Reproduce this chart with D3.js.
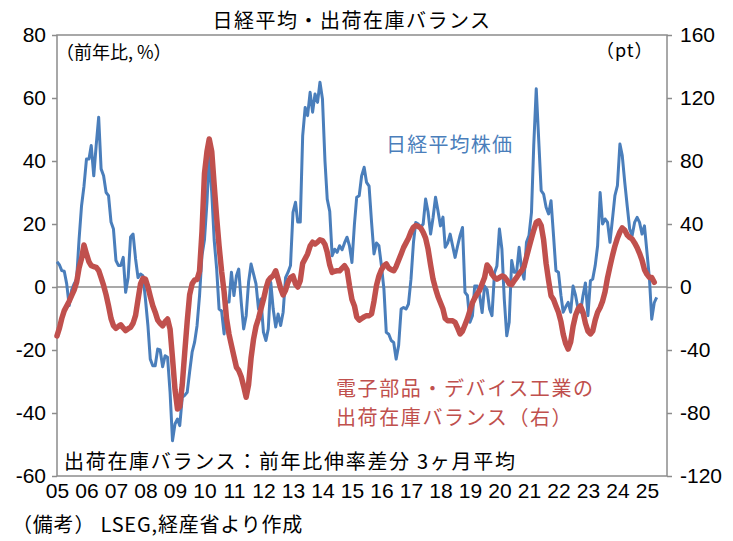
<!DOCTYPE html>
<html>
<head>
<meta charset="utf-8">
<script src="https://cdn.jsdelivr.net/npm/d3@7"></script>
<style>
  body { margin: 0; background: #fff; }
  text { font-family: "Noto Sans CJK JP", sans-serif; }
</style>
</head>
<body>
<script>
// monthly data, first month = 2005-01
let startMonth = "2005-01";

// 日経平均株価 前年比 (%), left axis
let nikkeiYoY = [
  8, 7, 5.2, 5, 1, -5.9, -1, 1, 2.5, 15, 25.8, 32,
  40.6, 40.6, 44.9, 35.3, 44.9, 53.9, 37.5, 35.3, 30, 29, 20.6, 18.4,
  8.4, 6.8, 6.8, 9.4, -1.7, 3, 15.9, 16.8, 8.9, 3, 4.1, 3.6,
  -3.8, -12.3, -22.9, -25, -25, -19.7, -20, -25.3, -21.8, -22.3, -33.4, -48.8,
  -43.5, -41.9, -44, -35, -34.4, -33.4, -27, -20.7, -17.5, -12.3, -2.7, 10,
  15, 26.9, 41.7, 30, 15, 5.7, -7, -7.6, -14.9, -4.8, -4.8, 4.7,
  -2.7, 3.6, 5.7, -4.8, -13.3, -9.1, 1.5, 7.3, 4.1, 1, -7, -3.8,
  -14.3, -17, -13.3, 1.5, -7, -12.7, -8.6, -12.2, -8, 3, 4.7, 6.8,
  23.7, 26.9, 20.6, 20.6, 48, 57, 54.4, 61.8, 55.5, 61.3, 58.6, 65,
  59.7, 40, 27.9, 24, 9.9, 12, 11, 13.1, 11.8, 14, 15.8, 13.1,
  7.8, 20, 28.5, 29, 35.3, 38, 33.2, 32, 20.5, 10.5, 14, 13.1,
  6.8, -0.7, -14.4, -15, -17, -17.6, -22.9, -18.6, -7, -6.5, -7, -5.4,
  2.5, 14.2, 20.5, 20, 18.9, 20, 27.9, 23.7, 16.8, 22, 28.5, 24.2,
  19.4, 22.2, 12.6, 14, 16.8, 13, 9.4, 13, 16.4, 18.9, -1.7, -2.7,
  -11.2, -9.1, 0.3, 0.3, -2.7, -8.1, 0.3, -0.8, -7, -9.1, 4.5, 6.7,
  18.4, 12, -3.8, -15.5, -11.2, 8.4, 4.7, 4.7, 12.6, 5.7, 2.5, 14.2,
  16.3, 23.7, 44.9, 62.9, 47, 30.6, 29.5, 25.3, 23.2, 27.4, 16.3, 5.2,
  4.7, -2.7, -8, -6.3, -4.9, -8, 0.3, -2.7, -7, -8, -2.7, 1.3,
  -9.1, 2, 2.5, 6.8, 13.1, 30, 20, 21.6, 20.5, 14.2, 21.6, 29,
  32.2, 45.4, 41.7, 33.2, 25.8, 18.4, 16.3, 20.5, 22.1, 20.5, 16.8, 19.4,
  11, 2.5, -10.2, -5, -3.3
];

// 電子部品・デバイス工業の出荷在庫バランス (pt), right axis
let balance = [
  -31, -26, -20, -15, -12, -9, -5.5, -2, 3, 12, 18, 26.7,
  21, 16, 13.5, 13, 12.5, 10.5, 6, 1, -5, -12, -20, -24.5,
  -26.2, -25, -24, -26, -27.7, -26.5, -25.6, -23, -18, -8, 2, 5.5,
  5, 0, -6, -11.9, -16, -21, -23, -24.6, -22, -20.3, -26.7, -45,
  -65, -77.5, -76, -62, -42, -22, -5, 2, 4.5, 4.8, 10, 35,
  72, 86, 94, 86, 65, 44, 26, 10, -3, -20, -30, -37,
  -44, -51, -53, -57, -63, -70, -62, -45, -33, -25, -20, -14,
  -8, -1, 4, 6, 7.2, 10.3, 5, -1, -5, -2, 3, 6,
  7, 2, 0, 4, 15, 18, 21, 26, 28.4, 27.3, 28.5, 30,
  29.5, 27, 22, 14, 9.3, 10, 10.3, 10.3, 12, 13.5, 11, 1,
  -8, -12, -19, -21, -20, -19, -18.2, -18.2, -17, -9, 1, 7,
  11, 13.5, 14.6, 12, 11, 10.3, 13, 17, 21, 25, 28, 31,
  35, 38, 39, 38.5, 37.5, 34.7, 31, 24, 14, 5, -1, -6,
  -10, -14, -20, -21.4, -21.4, -21.5, -22.4, -26, -29.8, -28, -24, -20,
  -15, -10, -7, -4.4, -2, 2, 6, 14, 12, 8, 6, 5,
  6, 7, 6.5, 4.5, 2, 1.5, 4, 6, 8.5, 10.3, 13, 19,
  25, 31, 36, 41, 42, 39, 30, 15, 4, -5.5, -8, -12,
  -16, -22, -30, -36, -39.4, -35, -25, -18, -14, -12, -16, -23,
  -28, -29.8, -28, -21, -16, -13, -9, -3, 6, 13, 20, 26,
  31, 35, 37.5, 36, 33, 31.5, 30.5, 28, 25, 21.4, 17, 11,
  8, 6, 6, 3
];

let yearLabels = ["05","06","07","08","09","10","11","12","13","14","15",
                  "16","17","18","19","20","21","22","23","24","25"];
let leftTicks = [-60, -40, -20, 0, 20, 40, 60, 80];
let rightTicks = [-120, -80, -40, 0, 40, 80, 120, 160];

let svg = d3.select("body").append("svg")
  .attr("width", 733)
  .attr("height", 541);

let margin = { top: 35, right: 66, bottom: 65, left: 57 };
let width = 733, height = 541;
let innerRight = width - margin.right;
let innerBottom = height - margin.bottom;

let parseMonth = d3.timeParse("%Y-%m");
let start = parseMonth(startMonth);
let monthOf = i => d3.timeMonth.offset(start, i);

let x = d3.scaleTime()
  .domain([start, new Date(2025, 8, 6)])
  .range([margin.left, innerRight]);

let yLeft = d3.scaleLinear()
  .domain([-60, 80])
  .range([innerBottom, margin.top]);

let yRight = d3.scaleLinear()
  .domain([-120, 160])
  .range([innerBottom, margin.top]);

let grey = "#8c8c8c";
let numFont = "'Liberation Sans Narrow', 'Liberation Sans', Arial, sans-serif";

// plot frame
svg.append("rect")
  .attr("x", margin.left)
  .attr("y", margin.top)
  .attr("width", innerRight - margin.left)
  .attr("height", innerBottom - margin.top)
  .attr("fill", "none")
  .attr("stroke", grey)
  .attr("stroke-width", 1.5);

// left axis
let leftG = svg.append("g")
  .attr("transform", `translate(${margin.left},0)`)
  .call(d3.axisLeft(yLeft).tickValues(leftTicks).tickSize(5).tickPadding(6)
    .tickFormat(d => String(d)));
leftG.select(".domain").remove();
leftG.selectAll("line").attr("stroke", grey).attr("stroke-width", 1.5);
leftG.selectAll("text").attr("font-size", 21).attr("fill", "#000")
  .style("font-family", numFont);

// right axis
let rightG = svg.append("g")
  .attr("transform", `translate(${innerRight},0)`)
  .call(d3.axisRight(yRight).tickValues(rightTicks).tickSize(5).tickPadding(8)
    .tickFormat(d => String(d)));
rightG.select(".domain").remove();
rightG.selectAll("line").attr("stroke", grey).attr("stroke-width", 1.5);
rightG.selectAll("text").attr("font-size", 21).attr("fill", "#000")
  .style("font-family", numFont);

// x axis: one label per January
let xG = svg.append("g")
  .attr("transform", `translate(0,${innerBottom})`)
  .call(d3.axisBottom(x)
    .tickValues(yearLabels.map(y => parseMonth("20" + y + "-01")))
    .tickSize(0).tickPadding(7)
    .tickFormat((d, i) => yearLabels[i]));
xG.select(".domain").remove();
xG.selectAll("text").attr("font-size", 21).attr("fill", "#000")
  .style("font-family", numFont);

// zero line
svg.append("line")
  .attr("x1", margin.left).attr("x2", innerRight)
  .attr("y1", yLeft(0)).attr("y2", yLeft(0))
  .attr("stroke", grey)
  .attr("stroke-width", 1.5);

// series
let blueLine = d3.line()
  .x((d, i) => x(monthOf(i)))
  .y(d => yLeft(d));

let redLine = d3.line()
  .x((d, i) => x(monthOf(i)))
  .y(d => yRight(d));

svg.append("path")
  .datum(nikkeiYoY)
  .attr("fill", "none")
  .attr("stroke", "#4a7ebb")
  .attr("stroke-width", 3)
  .attr("stroke-linejoin", "round")
  .attr("d", blueLine);

svg.append("path")
  .datum(balance)
  .attr("fill", "none")
  .attr("stroke", "#c0504d")
  .attr("stroke-width", 5.5)
  .attr("stroke-linejoin", "round")
  .attr("stroke-linecap", "round")
  .attr("d", redLine);

// texts
svg.append("text")
  .text("日経平均・出荷在庫バランス")
  .attr("x", 352).attr("y", 28)
  .attr("text-anchor", "middle")
  .attr("font-size", 20)
  .attr("letter-spacing", 1.5);

svg.append("text")
  .text("（前年比, %）")
  .attr("x", 56).attr("y", 59)
  .attr("font-size", 18);

svg.append("text")
  .text("（pt）")
  .attr("x", 596).attr("y", 57)
  .attr("font-size", 18)
  .attr("letter-spacing", 1);

svg.append("text")
  .text("日経平均株価")
  .attr("x", 386).attr("y", 152)
  .attr("font-size", 20)
  .attr("letter-spacing", 1.2)
  .attr("fill", "#4a7ebb");

svg.append("text")
  .text("電子部品・デバイス工業の")
  .attr("x", 336).attr("y", 396)
  .attr("font-size", 20)
  .attr("letter-spacing", 1.6)
  .attr("fill", "#c0504d");

svg.append("text")
  .text("出荷在庫バランス（右）")
  .attr("x", 336).attr("y", 425)
  .attr("font-size", 20)
  .attr("letter-spacing", 1.6)
  .attr("fill", "#c0504d");

svg.append("text")
  .text("出荷在庫バランス：前年比伸率差分 3ヶ月平均")
  .attr("x", 64).attr("y", 469)
  .attr("font-size", 20)
  .attr("letter-spacing", 1.7);

svg.append("text")
  .text("（備考） LSEG,経産省より作成")
  .attr("x", 12).attr("y", 532)
  .attr("font-size", 20)
  .attr("letter-spacing", 0.8);
</script>
</body>
</html>
